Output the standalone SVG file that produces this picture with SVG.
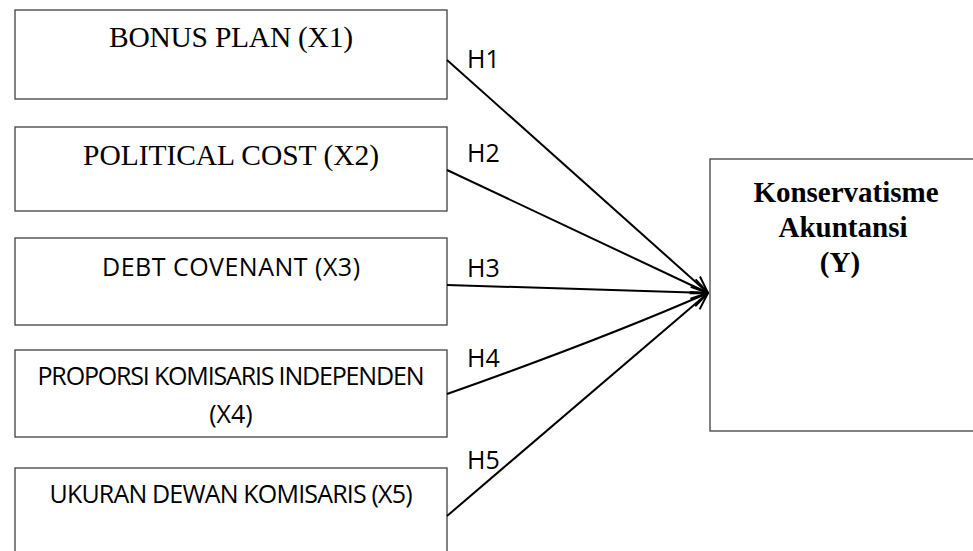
<svg xmlns="http://www.w3.org/2000/svg" width="973" height="551" viewBox="0 0 973 551">
<style>
.box{fill:#fff;stroke:#404040;stroke-width:1.3}
.serif{font-family:"Liberation Serif","Times New Roman",serif;font-size:29.5px;fill:#000;text-anchor:middle}
.sans{font-family:"Open Sans","Noto Sans",sans-serif;font-size:25px;fill:#000;text-anchor:middle}
.lbl{font-family:"Open Sans","Noto Sans",sans-serif;font-size:25px;fill:#000}
.bold{font-family:"Liberation Serif","Times New Roman",serif;font-size:29px;font-weight:bold;fill:#000;text-anchor:middle}
.conn{fill:none;stroke:#000;stroke-width:2;marker-end:url(#arr)}
</style>
<defs>
<marker id="arr" viewBox="0 0 20 20" refX="19" refY="10" markerWidth="20" markerHeight="20" markerUnits="userSpaceOnUse" orient="auto">
<path d="M2,3 L19,10 L2,17" fill="none" stroke="#000" stroke-width="2"/>
</marker>
</defs>
<g id="x1"><rect class="box" x="15" y="10" width="432" height="89"/><text class="serif" x="231" y="47" textLength="244" lengthAdjust="spacing">BONUS PLAN (X1)</text></g>
<g id="x2"><rect class="box" x="15" y="127" width="432" height="84"/><text class="serif" x="231" y="165" textLength="296" lengthAdjust="spacing">POLITICAL COST (X2)</text></g>
<g id="x3"><rect class="box" x="15" y="238" width="432" height="87"/><text class="sans" x="231" y="276" textLength="258" lengthAdjust="spacing">DEBT COVENANT (X3)</text></g>
<g id="x4"><rect class="box" x="15" y="350" width="432" height="87"/><text class="sans" x="231" y="385" textLength="387" lengthAdjust="spacing">PROPORSI KOMISARIS INDEPENDEN</text><text class="sans" x="231" y="423">(X4)</text></g>
<g id="x5"><rect class="box" x="15" y="468" width="432" height="95"/><text class="sans" x="231" y="503" textLength="363" lengthAdjust="spacing">UKURAN DEWAN KOMISARIS (X5)</text></g>
<g id="y"><rect class="box" x="710" y="159" width="280" height="272"/><text class="bold" x="846" y="202">Konservatisme</text><text class="bold" x="843" y="237">Akuntansi</text><text class="bold" x="840" y="272">(Y)</text></g>
<g id="connectors">
<line class="conn" x1="447" y1="60" x2="708" y2="293"/>
<line class="conn" x1="447" y1="170" x2="708" y2="293"/>
<line class="conn" x1="447" y1="285" x2="708" y2="293"/>
<path class="conn" d="M447,394 Q600,340 708,293"/>
<line class="conn" x1="447" y1="516" x2="708" y2="293"/>
<text class="lbl" x="467" y="68">H1</text>
<text class="lbl" x="467" y="162">H2</text>
<text class="lbl" x="467" y="277">H3</text>
<text class="lbl" x="467" y="367">H4</text>
<text class="lbl" x="467" y="469">H5</text>
</g>
</svg>
